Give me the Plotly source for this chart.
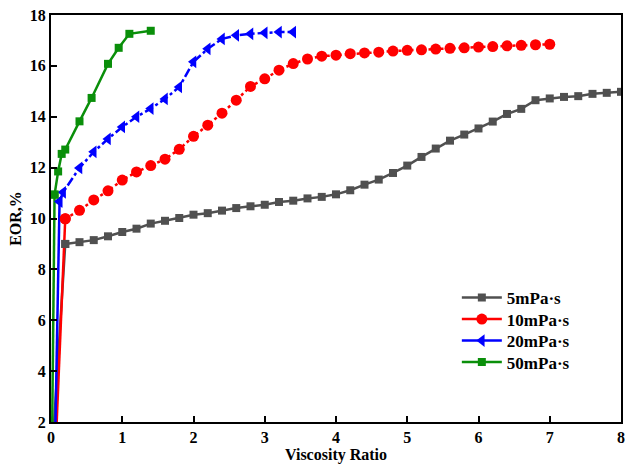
import plotly.graph_objects as go

# 5 mPa·s
x5 = [0.0] + [round(0.2 * i, 1) for i in range(1, 41)]
y5 = [0.0, 9.00, 9.07, 9.15, 9.30, 9.47, 9.60, 9.80, 9.91, 10.02, 10.15,
      10.21, 10.31, 10.41, 10.48, 10.54, 10.65, 10.70, 10.79, 10.85, 10.95,
      11.11, 11.33, 11.53, 11.79, 12.08, 12.42, 12.75, 13.06, 13.30, 13.54,
      13.81, 14.11, 14.31, 14.65, 14.72, 14.78, 14.81, 14.90, 14.94, 14.98]

# 10 mPa·s
x10 = [0.05] + [round(0.2 * i, 1) for i in range(1, 36)]
y10 = [0.0, 9.99, 10.32, 10.73, 11.09, 11.51, 11.83, 12.08, 12.33, 12.72,
       13.23, 13.67, 14.14, 14.65, 15.19, 15.49, 15.83, 16.09, 16.27, 16.38,
       16.42, 16.48, 16.51, 16.54, 16.58, 16.61, 16.63, 16.66, 16.69, 16.71,
       16.74, 16.76, 16.79, 16.81, 16.83, 16.85]

# 20 mPa·s
x20 = [0.05, 0.12, 0.17, 0.4, 0.6, 0.8, 1.0, 1.2, 1.4, 1.6, 1.8, 2.0, 2.2,
       2.4, 2.6, 2.8, 3.0, 3.2, 3.4]
y20 = [0.0, 10.67, 11.03, 11.99, 12.62, 13.13, 13.60, 14.00, 14.32, 14.70,
       15.17, 16.16, 16.67, 17.06, 17.20, 17.26, 17.30, 17.33, 17.33]

# 50 mPa·s
x50 = [0.01, 0.05, 0.1, 0.15, 0.2, 0.4, 0.57, 0.8, 0.95, 1.1, 1.4]
y50 = [0.0, 10.94, 11.85, 12.54, 12.71, 13.82, 14.74, 16.08, 16.71, 17.26, 17.38]

x_ticks = [0, 1, 2, 3, 4, 5, 6, 7, 8]
y_ticks = [2, 4, 6, 8, 10, 12, 14, 16, 18]

FONT = "Liberation Serif, Times New Roman, serif"

series = [
    ("5mPa·s", x5, y5, "#505050", "solid", "square", 8),
    ("10mPa·s", x10, y10, "#ff0000", "dot", "circle", 11),
    ("20mPa·s", x20, y20, "#0000ff", "dashdot", "triangle-left", 11),
    ("50mPa·s", x50, y50, "#0a8f0a", "solid", "square", 8),
]

legend_names = ["legend", "legend2", "legend3", "legend4"]
row_centers_px = [298, 319.5, 341, 362.5]
plot_top, plot_h = 15, 407

fig = go.Figure()
for i, (name, xs, ys, col, dash, sym, ms) in enumerate(series):
    # solid lead-in segment from the axis floor to the first marker (carries the legend entry)
    fig.add_trace(go.Scatter(x=xs[:2], y=ys[:2], mode="lines+markers", name=f"<b>{name}</b>",
                             legend=legend_names[i], hoverinfo="skip",
                             line=dict(color=col, width=2.5),
                             marker=dict(symbol=sym, size=ms, color=col)))
for i, (name, xs, ys, col, dash, sym, ms) in enumerate(series):
    fig.add_trace(go.Scatter(x=xs[1:], y=ys[1:], name=name, mode="lines+markers",
                             showlegend=False,
                             line=dict(color=col, width=2.5, dash=dash),
                             marker=dict(symbol=sym, size=ms, color=col)))

layout_legends = {}
for i, ln in enumerate(legend_names):
    layout_legends[ln] = dict(
        x=0.712, y=1 - (row_centers_px[i] - plot_top) / plot_h,
        xanchor="left", yanchor="middle", itemwidth=40,
        bgcolor="rgba(0,0,0,0)", font=dict(family=FONT, size=17))

fig.update_layout(
    width=625, height=469,
    margin=dict(l=51, r=4, t=15, b=47, autoexpand=False),
    paper_bgcolor="white", plot_bgcolor="white",
    font=dict(family=FONT, size=16, color="black"),
    showlegend=True,
    **layout_legends,
)
fig.update_xaxes(range=[0, 8], tickvals=x_ticks, ticktext=[f"<b>{v}</b>" for v in x_ticks],
                 ticks="inside", ticklen=6, tickwidth=1.5, tickcolor="black",
                 showline=True, linecolor="black", linewidth=2, mirror=True,
                 showgrid=False, zeroline=False, automargin=False,
                 title=dict(text="<b>Viscosity Ratio</b>", font=dict(size=16), standoff=2))
fig.update_yaxes(range=[2, 18], tickvals=y_ticks, ticktext=[f"<b>{v}</b>" for v in y_ticks],
                 ticks="inside", ticklen=6, tickwidth=1.5, tickcolor="black",
                 showline=True, linecolor="black", linewidth=2, mirror=True,
                 showgrid=False, zeroline=False, automargin=False,
                 title=dict(text="<b>EOR,%</b>", font=dict(size=16), standoff=4))

fig.write_html("out.html")
